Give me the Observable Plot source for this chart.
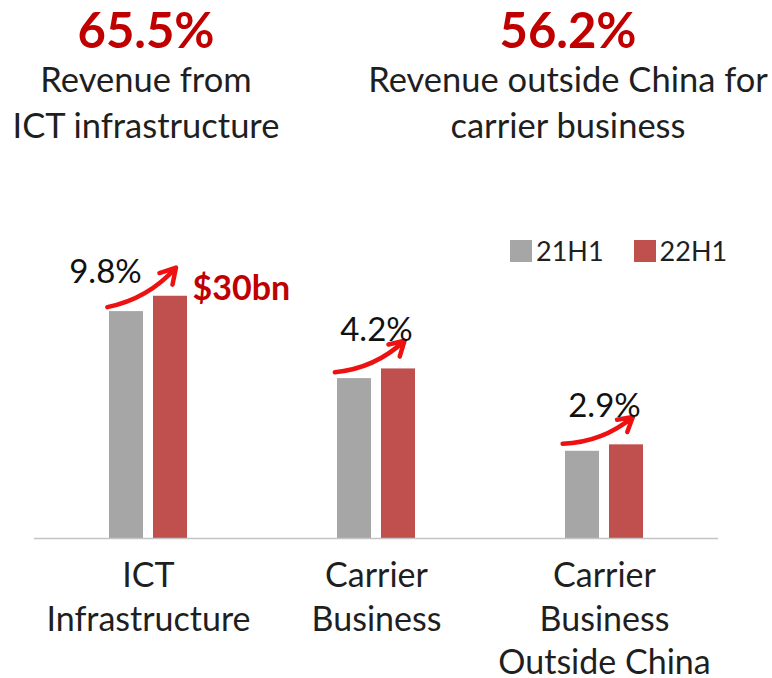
<!DOCTYPE html>
<html>
<head>
<meta charset="utf-8">
<script src="https://cdn.jsdelivr.net/npm/d3@7"></script>
<script src="https://cdn.jsdelivr.net/npm/@observablehq/plot@0.6"></script>
<style>
  html, body { margin: 0; padding: 0; background: #fff; }
  #wrap { position: relative; width: 772px; height: 678px; font-family: Lato, "Open Sans", sans-serif; color: #1a1a1a; overflow: hidden; }
  .head { position: absolute; text-align: center; }
  .big { font-weight: 700; font-size: 49px; color: #c00000; line-height: 54px; }
  .sub { font-size: 34.5px; line-height: 46px; color: #1f1f1f; }
  #legend { position: absolute; left: 510px; top: 234px; display: flex; align-items: center; font-size: 27px; color: #1f1f1f; }
  .sw { width: 22px; height: 22px; display: inline-block; margin-right: 4px; }
  #chart { position: absolute; left: 0; top: 0; }
</style>
</head>
<body>
<div id="wrap">
  <div id="chart"></div>
  <div id="h0" class="head" style="left:0px; width:292px; top:2px;"></div>
  <div id="h1" class="head" style="left:366px; width:404px; top:2px;"></div>
  <div id="legend"></div>
</div>
<script>
// ---- data ----
const headlineValues = ["65.5%", "56.2%"];
const headlineTexts = ["Revenue from\nICT infrastructure", "Revenue outside China for\ncarrier business"];

const categories = ["ICT Infrastructure", "Carrier Business", "Carrier Business Outside China"];
const categoryLabels = ["ICT\nInfrastructure", "Carrier\nBusiness", "Carrier\nBusiness\nOutside China"];
const series = ["21H1", "22H1"];
const values21H1 = [28.1, 19.8, 10.8];
const values22H1 = [30.0, 21.0, 11.6];
const growthLabels = ["9.8%", "4.2%", "2.9%"];
const totalLabel = "$30bn";

const colors = ["#a6a6a6", "#c0504d"];

// ---- tables built from arrays ----
const bars = categories.flatMap((c, i) => [
  {category: c, series: series[0], value: values21H1[i]},
  {category: c, series: series[1], value: values22H1[i]}
]);
const groups = categories.map((c, i) => ({
  category: c, label: categoryLabels[i], v21: values21H1[i], v22: values22H1[i], growth: growthLabels[i]
}));

// ---- headlines ----
headlineValues.forEach((v, i) => {
  const el = document.getElementById("h" + i);
  const b = document.createElement("div"); b.className = "big"; b.textContent = v; el.appendChild(b);
  headlineTexts[i].split("\n").forEach(line => {
    const s = document.createElement("div"); s.className = "sub"; s.textContent = line; el.appendChild(s);
  });
});

// ---- legend ----
const legend = document.getElementById("legend");
series.forEach((s, i) => {
  const item = document.createElement("span");
  item.style.display = "inline-flex"; item.style.alignItems = "center"; item.style.marginRight = i === 0 ? "30px" : "0";
  const sw = document.createElement("span"); sw.className = "sw"; sw.style.background = colors[i];
  const t = document.createElement("span"); t.textContent = s;
  item.appendChild(sw); item.appendChild(t); legend.appendChild(item);
});

// ---- chart ----
const font = 34;
const arrowLift = 1.6; // extra lift of arrow tips, in y units
const chart = Plot.plot({
  width: 772,
  height: 678,
  marginTop: 215,
  marginBottom: 140,
  marginLeft: 33,
  marginRight: 53,
  style: {fontFamily: "Lato, 'Open Sans', sans-serif", color: "#1f1f1f", background: "transparent"},
  fx: {domain: categories, paddingInner: 0, paddingOuter: 0, axis: null, label: null},
  x: {domain: series, paddingInner: 0.2222, paddingOuter: 1.652, axis: null, label: null},
  y: {domain: [0, 40], axis: null, label: null},
  color: {domain: series, range: colors},
  marks: [
    Plot.barY(bars, {fx: "category", x: "series", y: "value", fill: "series"}),
    Plot.ruleY([0], {stroke: "#c4c4c4", strokeWidth: 1.5}),
    Plot.arrow(groups, {
      fx: "category", x1: () => series[0], x2: () => series[1], y1: "v21", y2: d => d.v22 + arrowLift,
      dy: -10, insetStart: -20, insetEnd: -8, bend: -12,
      stroke: "#ee1111", strokeWidth: 4.5, headLength: 13
    }),
    Plot.text(groups.slice(0, 1), {fx: "category", y: "v22", text: "growth", dx: -43, dy: -24, fontSize: font - 1, fill: "#111"}),
    Plot.text(groups.slice(1), {fx: "category", y: "v22", text: "growth", dy: -38, fontSize: font - 1, fill: "#111"}),
    Plot.text(groups.slice(0, 1), {
      fx: "category", x: () => series[1], y: "v22", text: () => totalLabel,
      textAnchor: "start", dx: 22, dy: -7, fontSize: font, fontWeight: "bold", fill: "#c00000"
    }),
    Plot.text(groups, {
      fx: "category", text: "label", frameAnchor: "bottom", lineAnchor: "top",
      dy: 17, lineHeight: 1.29, fontSize: font, fill: "#1f1f1f"
    })
  ]
});
document.getElementById("chart").appendChild(chart);
</script>
</body>
</html>
